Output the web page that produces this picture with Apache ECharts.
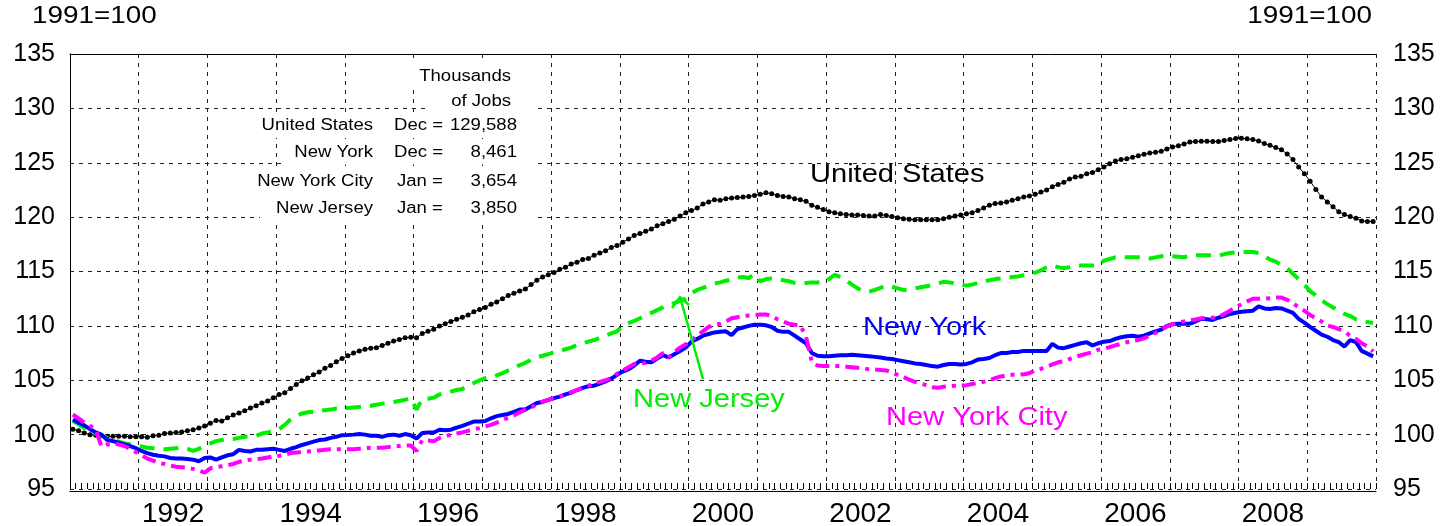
<!DOCTYPE html>
<html>
<head>
<meta charset="utf-8">
<script src="https://cdn.jsdelivr.net/npm/echarts@6/dist/echarts.min.js"></script>
<style>
  html, body { margin: 0; padding: 0; background: #fff; }
  #chart { width: 1444px; height: 526px; }
</style>
</head>
<body>
<div id="chart"></div>
<script>
// payroll jobs index, 1991 = 100, monthly Jan 1991 - Dec 2009
const years = [1991, 1992, 1993, 1994, 1995, 1996, 1997, 1998, 1999, 2000,
  2001, 2002, 2003, 2004, 2005, 2006, 2007, 2008, 2009];
const yTicks = { min: 95, max: 135, step: 5 };

const usIndex = [
  100.5, 100.35, 100.15, 100.0, 99.95, 99.9, 99.85, 99.85, 99.85, 99.85, 99.8, 99.8,
  99.8, 99.75, 99.9, 99.95, 100.1, 100.15, 100.2, 100.25, 100.35, 100.45, 100.6, 100.8,
  101.05, 101.3, 101.25, 101.55, 101.8, 102.0, 102.2, 102.45, 102.65, 102.9, 103.1, 103.4,
  103.7, 103.85, 104.25, 104.6, 104.95, 105.2, 105.5, 105.75, 106.1, 106.35, 106.7, 107.0,
  107.25, 107.5, 107.7, 107.85, 107.95, 108.0, 108.2, 108.4, 108.6, 108.75, 108.9, 108.95,
  108.9, 109.3, 109.5, 109.7, 110.0, 110.2, 110.4, 110.6, 110.8, 111.0, 111.3, 111.5,
  111.7, 112.0, 112.2, 112.5, 112.8, 113.0, 113.2, 113.4, 113.8, 114.2, 114.5, 114.7,
  114.9, 115.2, 115.4, 115.7, 115.85, 116.1, 116.2, 116.5, 116.7, 116.9, 117.2, 117.4,
  117.7, 118.0, 118.3, 118.5, 118.7, 118.9, 119.2, 119.4, 119.6, 119.8, 120.1, 120.4,
  120.6, 120.85, 121.2, 121.4, 121.6, 121.55, 121.7, 121.75, 121.8, 121.85, 121.9, 122.0,
  122.1, 122.25, 122.15, 122.0, 121.9, 121.85, 121.7, 121.6, 121.45, 121.1, 120.9, 120.7,
  120.5, 120.4, 120.3, 120.25, 120.2, 120.2, 120.15, 120.1, 120.1, 120.25, 120.15, 120.05,
  119.95, 119.85, 119.8, 119.75, 119.75, 119.75, 119.75, 119.75, 119.85, 120.0, 120.1, 120.2,
  120.3, 120.4, 120.6, 120.85, 121.1, 121.25, 121.3, 121.4, 121.55, 121.7, 121.85, 121.95,
  122.1, 122.3, 122.5, 122.8, 123.0, 123.2, 123.5, 123.7, 123.75, 124.0, 124.1, 124.35,
  124.6, 124.9, 125.15, 125.3, 125.36, 125.5, 125.65, 125.78, 125.9, 125.97, 126.05, 126.27,
  126.45, 126.57, 126.72, 126.9, 126.95, 126.98, 126.98, 126.95, 126.95, 127.04, 127.13, 127.22,
  127.25, 127.2, 127.13, 127.0, 126.77, 126.6, 126.4, 126.2, 125.8, 125.3, 124.6, 124.0,
  123.3, 122.55, 121.85, 121.4, 120.95, 120.5, 120.25, 120.05, 119.9, 119.65, 119.6, 119.6
];

const nyIndex = [
  101.4, 101.1, 100.85, 100.5, 100.2, 100.0, 99.5, 99.4, 99.25, 99.1, 98.95, 98.75,
  98.5, 98.3, 98.15, 98.05, 98.0, 97.85, 97.8, 97.8, 97.75, 97.7, 97.55, 97.85,
  97.9, 97.7, 97.9, 98.1, 98.2, 98.6, 98.5, 98.45, 98.6, 98.6, 98.65, 98.7,
  98.6, 98.5, 98.7, 98.85, 99.05, 99.2, 99.35, 99.5, 99.55, 99.7, 99.8, 99.95,
  99.97, 100.0, 100.05, 100.0, 99.9, 99.9, 99.8, 99.95, 100.0, 99.9, 100.05, 99.95,
  99.65, 100.15, 100.2, 100.2, 100.45, 100.4, 100.45, 100.65, 100.8, 101.0, 101.2, 101.2,
  101.25, 101.5, 101.7, 101.8, 101.9, 102.1, 102.3, 102.3, 102.6, 102.9, 103.0, 103.2,
  103.35, 103.5, 103.7, 103.85, 104.1, 104.3, 104.45, 104.5, 104.7, 104.9, 105.15, 105.5,
  105.8, 106.0, 106.35, 106.8, 106.7, 106.65, 107.0, 107.3, 107.1, 107.4, 107.7, 108.0,
  108.55, 108.8, 109.1, 109.25, 109.4, 109.45, 109.5, 109.15, 109.7, 109.85, 110.0, 110.1,
  110.1, 110.05, 109.9, 109.55, 109.45, 109.45, 109.1, 108.75, 108.4, 107.5, 107.25, 107.2,
  107.2, 107.25, 107.3, 107.3, 107.35, 107.3, 107.25, 107.2, 107.15, 107.1, 107.0, 106.95,
  106.85, 106.75, 106.65, 106.55, 106.5, 106.4, 106.3, 106.25, 106.4, 106.5, 106.5, 106.45,
  106.5, 106.65, 106.9, 106.95, 107.05, 107.3, 107.5, 107.5, 107.6, 107.6, 107.7, 107.7,
  107.7, 107.7, 107.7, 108.35, 108.0, 107.95, 108.1, 108.25, 108.4, 108.5, 108.2, 108.4,
  108.55, 108.6, 108.8, 108.95, 109.05, 109.1, 109.0, 109.1, 109.3, 109.5, 109.65, 110.0,
  110.15, 110.2, 110.2, 110.2, 110.4, 110.65, 110.6, 110.55, 110.75, 110.9, 111.1, 111.2,
  111.3, 111.35, 111.4, 111.8, 111.6, 111.55, 111.65, 111.6, 111.4, 111.2, 110.65, 110.3,
  109.9, 109.55, 109.2, 109.0, 108.7, 108.5, 108.1, 108.7, 108.5, 107.7, 107.45, 107.2
];

const njIndex = [
  101.25, 100.95, 100.6, 100.35, 100.1, 99.9, 99.7, 99.5, 99.35, 99.2, 99.1, 99.0,
  98.9, 98.8, 98.75, 98.7, 98.65, 98.7, 98.75, 98.8, 98.7, 98.5, 98.7, 98.95,
  99.2, 99.4, 99.5, 99.55, 99.6, 99.7, 99.8, 99.85, 99.9, 100.1, 100.2, 100.3,
  100.5, 100.9, 101.4, 101.7, 101.95, 102.05, 102.1, 102.2, 102.25, 102.3, 102.4, 102.45,
  102.45, 102.5, 102.55, 102.6, 102.65, 102.75, 102.85, 102.9, 103.0, 103.1, 103.2, 103.35,
  102.3, 103.3, 103.3, 103.4, 103.7, 103.8, 103.95, 104.1, 104.2, 104.5, 104.75, 105.0,
  105.2, 105.3, 105.45, 105.65, 105.9, 106.1, 106.4, 106.6, 106.9, 107.1, 107.25, 107.4,
  107.55, 107.7, 107.85, 108.0, 108.25, 108.4, 108.55, 108.7, 108.9, 109.1, 109.3, 109.5,
  110.0, 110.25, 110.45, 110.7, 110.95, 111.2, 111.45, 111.7, 111.9, 112.1, 112.3, 112.5,
  113.0, 113.3, 113.5, 113.7, 113.9, 114.0, 114.15, 114.3, 114.45, 114.5, 114.4, 114.75,
  114.1, 114.3, 114.35, 114.3, 114.2, 114.1, 113.95, 113.9, 113.95, 114.0, 114.0, 113.95,
  114.3, 114.7, 114.5, 114.2, 113.8, 113.45, 113.2, 113.15, 113.3, 113.5, 113.7, 113.6,
  113.45, 113.3, 113.35, 113.45, 113.55, 113.65, 113.75, 113.9, 114.05, 114.0, 113.9, 113.8,
  113.7, 113.8, 113.95, 114.1, 114.2, 114.3, 114.35, 114.4, 114.5, 114.55, 114.65, 114.75,
  114.9, 115.1, 115.4, 115.55, 115.4, 115.3, 115.4, 115.5, 115.55, 115.55, 115.55, 115.55,
  116.0, 116.15, 116.3, 116.3, 116.3, 116.3, 116.3, 116.25, 116.2, 116.3, 116.4, 116.45,
  116.4, 116.35, 116.3, 116.5, 116.5, 116.5, 116.5, 116.5, 116.45, 116.6, 116.7, 116.75,
  116.75, 116.8, 116.8, 116.7, 116.4, 116.1, 115.9, 115.6, 115.3, 114.8, 114.3, 113.8,
  113.2, 112.8, 112.35, 112.0, 111.7, 111.4, 111.1, 110.9, 110.6, 110.5, 110.35, 110.25
];

const nycIndex = [
  101.85, 101.5, 101.1, 100.8, 100.45, 98.9, 99.1, 99.2, 99.1, 98.95, 98.7, 98.4,
  98.1, 97.8, 97.6, 97.4, 97.3, 97.15, 97.05, 97.0, 96.95, 96.85, 96.7, 96.5,
  96.9, 97.0, 97.1, 97.2, 97.3, 97.5, 97.6, 97.7, 97.75, 97.8, 97.9, 98.0,
  98.05, 98.15, 98.3, 98.35, 98.4, 98.45, 98.5, 98.55, 98.6, 98.65, 98.65, 98.65,
  98.65, 98.65, 98.7, 98.75, 98.8, 98.8, 98.8, 98.85, 98.9, 98.95, 99.0, 99.0,
  98.5, 99.5, 99.45, 99.4, 99.7, 99.85, 100.0, 100.1, 100.2, 100.35, 100.5, 100.6,
  100.75, 100.9, 101.1, 101.35, 101.55, 101.75, 102.05, 102.3, 102.5, 102.8, 103.05, 103.2,
  103.3, 103.5, 103.7, 103.9, 104.1, 104.3, 104.5, 104.7, 104.85, 105.0, 105.2, 105.6,
  105.9, 106.2, 106.5, 106.55, 106.6, 106.8, 107.1, 107.5, 107.1, 107.6, 108.0, 108.3,
  108.7, 109.1, 109.5, 109.9, 110.1, 110.2, 110.4, 110.7, 110.8, 110.9, 110.95, 111.0,
  111.05, 111.05, 110.9, 110.6, 110.4, 110.2, 110.1, 110.05, 109.0, 106.7, 106.35, 106.3,
  106.3, 106.3, 106.3, 106.25, 106.2, 106.15, 106.1, 106.0, 106.0, 105.95, 105.9, 105.7,
  105.5, 105.3, 105.05, 104.85, 104.7, 104.55, 104.35, 104.3, 104.4, 104.45, 104.5, 104.5,
  104.55, 104.65, 104.75, 104.85, 105.0, 105.2, 105.35, 105.45, 105.5, 105.5, 105.55, 105.65,
  105.9, 106.05, 106.25, 106.45, 106.65, 106.75, 106.95, 107.15, 107.3, 107.45, 107.55, 107.8,
  107.9, 108.05, 108.2, 108.35, 108.5, 108.6, 108.7, 108.85, 109.1, 109.35, 109.65, 109.95,
  110.15, 110.3, 110.4, 110.5, 110.6, 110.7, 110.75, 110.75, 110.8, 111.1, 111.4, 111.7,
  112.0, 112.25, 112.5, 112.5, 112.5, 112.55, 112.6, 112.6, 112.4, 112.1, 111.7, 111.4,
  111.0, 110.7, 110.4, 110.05, 109.9, 109.7, 109.45, 109.1, 108.8, 108.4, 108.1, 107.65
];

// base-year job counts shown in the box (thousands)
const tableRows = [
  ["United States", "Dec =", "129,588"],
  ["New York", "Dec =", "8,461"],
  ["New York City", "Jan =", "3,654"],
  ["New Jersey", "Jan =", "3,850"]
];

const FONT = '"Liberation Sans", Arial, Helvetica, sans-serif';
const nMonths = years.length * 12;
const plotHeight = 437;
const tickLen = 6;
// x is months since Jan 1991, each point sits mid-month
const toPairs = (arr) => arr.map((v, i) => [i + 0.5, v]);

function txt(text, x, y, color, size, align, sx) {
  return {
    type: "text", x: x, y: y, z: 20, scaleX: sx || 1.15,
    style: { text: text, fill: color, fontSize: size, fontFamily: FONT, align: align, verticalAlign: "middle" }
  };
}
function whiteBox(x, y, w, h) {
  return { type: "rect", z: 10, shape: { x: x, y: y, width: w, height: h }, style: { fill: "#fff" } };
}

const rowY = [126, 152.5, 182, 208.5];
const boxLeft = [255, 283, 250, 260];
const graphics = [
  txt("1991=100", 32, 16, "#000", 24, "left", 1.16),
  txt("1991=100", 1372, 16, "#000", 24, "right", 1.16),
  whiteBox(405, 62, 128, 26),
  whiteBox(430, 88, 103, 24),
  txt("Thousands", 511, 76.5, "#000", 16, "right", 1.16),
  txt("of Jobs", 511, 101.5, "#000", 16, "right", 1.16),
  txt("United States", 810, 175, "#000", 25.5, "left", 1.14),
  txt("New York", 863, 328, "#0000ff", 25.5, "left", 1.14),
  txt("New Jersey", 633, 400, "#00ee00", 25.5, "left", 1.14),
  txt("New York City", 886, 418, "#ff00ff", 25.5, "left", 1.14),
  {
    type: "polyline", z: 20,
    shape: { points: [[703, 379], [680, 297]] },
    style: { stroke: "#00ee00", lineWidth: 2.5 }
  },
  {
    type: "polyline", z: 20,
    shape: { points: [[672, 308], [680, 297], [689, 305]] },
    style: { stroke: "#00ee00", lineWidth: 2.5, fill: null }
  }
];
tableRows.forEach((r, i) => {
  graphics.push(whiteBox(boxLeft[i], rowY[i] - 13, 533 - boxLeft[i], 25));
  graphics.push(txt(r[0], 373, rowY[i], "#000", 16, "right", 1.16));
  graphics.push(txt(r[1], r[1].startsWith("Dec") ? 394 : 397, rowY[i], "#000", 16, "left", 1.16));
  graphics.push(txt(r[2], 517, rowY[i], "#000", 16, "right", 1.16));
});

const gridLine = { color: "#222", width: 1, type: [4, 5] };
const frameLine = { show: true, lineStyle: { color: "#000", width: 1 } };

const chart = echarts.init(document.getElementById("chart"));
chart.setOption({
  animation: false,
  backgroundColor: "#fff",
  grid: { left: 70, right: 68, top: 54, height: plotHeight },
  xAxis: [
    {
      // months since Jan 1991: carries the data and the monthly ticks,
      // lifted so its outward ticks stand on the bottom frame
      type: "value", min: 0, max: nMonths, interval: 1, position: "bottom", offset: -tickLen,
      axisLine: { show: true, lineStyle: { color: "#000", width: 0, opacity: 0 } },
      axisTick: { show: true, inside: false, length: tickLen, lineStyle: { color: "#000", width: 1 } },
      axisLabel: { show: false },
      splitLine: { show: false }
    },
    {
      // yearly bands: dashed grid lines at year starts; moved down onto the
      // bottom frame, its labels sit centred under every other year
      type: "category", data: years.map(String), boundaryGap: true,
      position: "top", offset: -plotHeight,
      axisLine: frameLine,
      axisTick: { show: false },
      axisLabel: {
        inside: true, interval: (idx) => idx % 2 === 1,
        color: "#000", fontSize: 28, fontFamily: FONT, margin: 9
      },
      splitLine: { show: true, interval: 0, lineStyle: gridLine }
    },
    {
      // top frame line
      type: "value", min: 0, max: nMonths, position: "top",
      axisLine: frameLine,
      axisTick: { show: false },
      axisLabel: { show: false },
      splitLine: { show: false }
    }
  ],
  yAxis: [
    {
      type: "value", min: yTicks.min, max: yTicks.max, interval: yTicks.step, position: "left",
      axisLine: frameLine,
      axisTick: { show: false },
      axisLabel: { color: "#000", fontSize: 25, fontFamily: FONT, margin: 15 },
      splitLine: { show: true, lineStyle: gridLine }
    },
    {
      type: "value", min: yTicks.min, max: yTicks.max, interval: yTicks.step, position: "right",
      axisLine: frameLine,
      axisTick: { show: false },
      axisLabel: { color: "#000", fontSize: 25, fontFamily: FONT, margin: 17 },
      splitLine: { show: false }
    }
  ],
  series: [
    {
      name: "United States", type: "line", xAxisIndex: 0, yAxisIndex: 0, data: toPairs(usIndex),
      showSymbol: true, showAllSymbol: true, symbol: "circle", symbolSize: 5,
      itemStyle: { color: "#000" }, lineStyle: { color: "#000", width: 1 }, z: 3
    },
    {
      name: "New Jersey", type: "line", xAxisIndex: 0, yAxisIndex: 0, data: toPairs(njIndex),
      showSymbol: false, lineStyle: { color: "#00ee00", width: 4, type: [15, 9], cap: "butt" }, z: 4
    },
    {
      name: "New York", type: "line", xAxisIndex: 0, yAxisIndex: 0, data: toPairs(nyIndex),
      showSymbol: false, lineStyle: { color: "#0000ff", width: 4 }, z: 5
    },
    {
      name: "New York City", type: "line", xAxisIndex: 0, yAxisIndex: 0, data: toPairs(nycIndex),
      showSymbol: false, lineStyle: { color: "#ff00ff", width: 4, type: [14, 6, 4, 6], cap: "butt" }, z: 6
    }
  ],
  graphic: graphics
});
</script>
</body>
</html>
